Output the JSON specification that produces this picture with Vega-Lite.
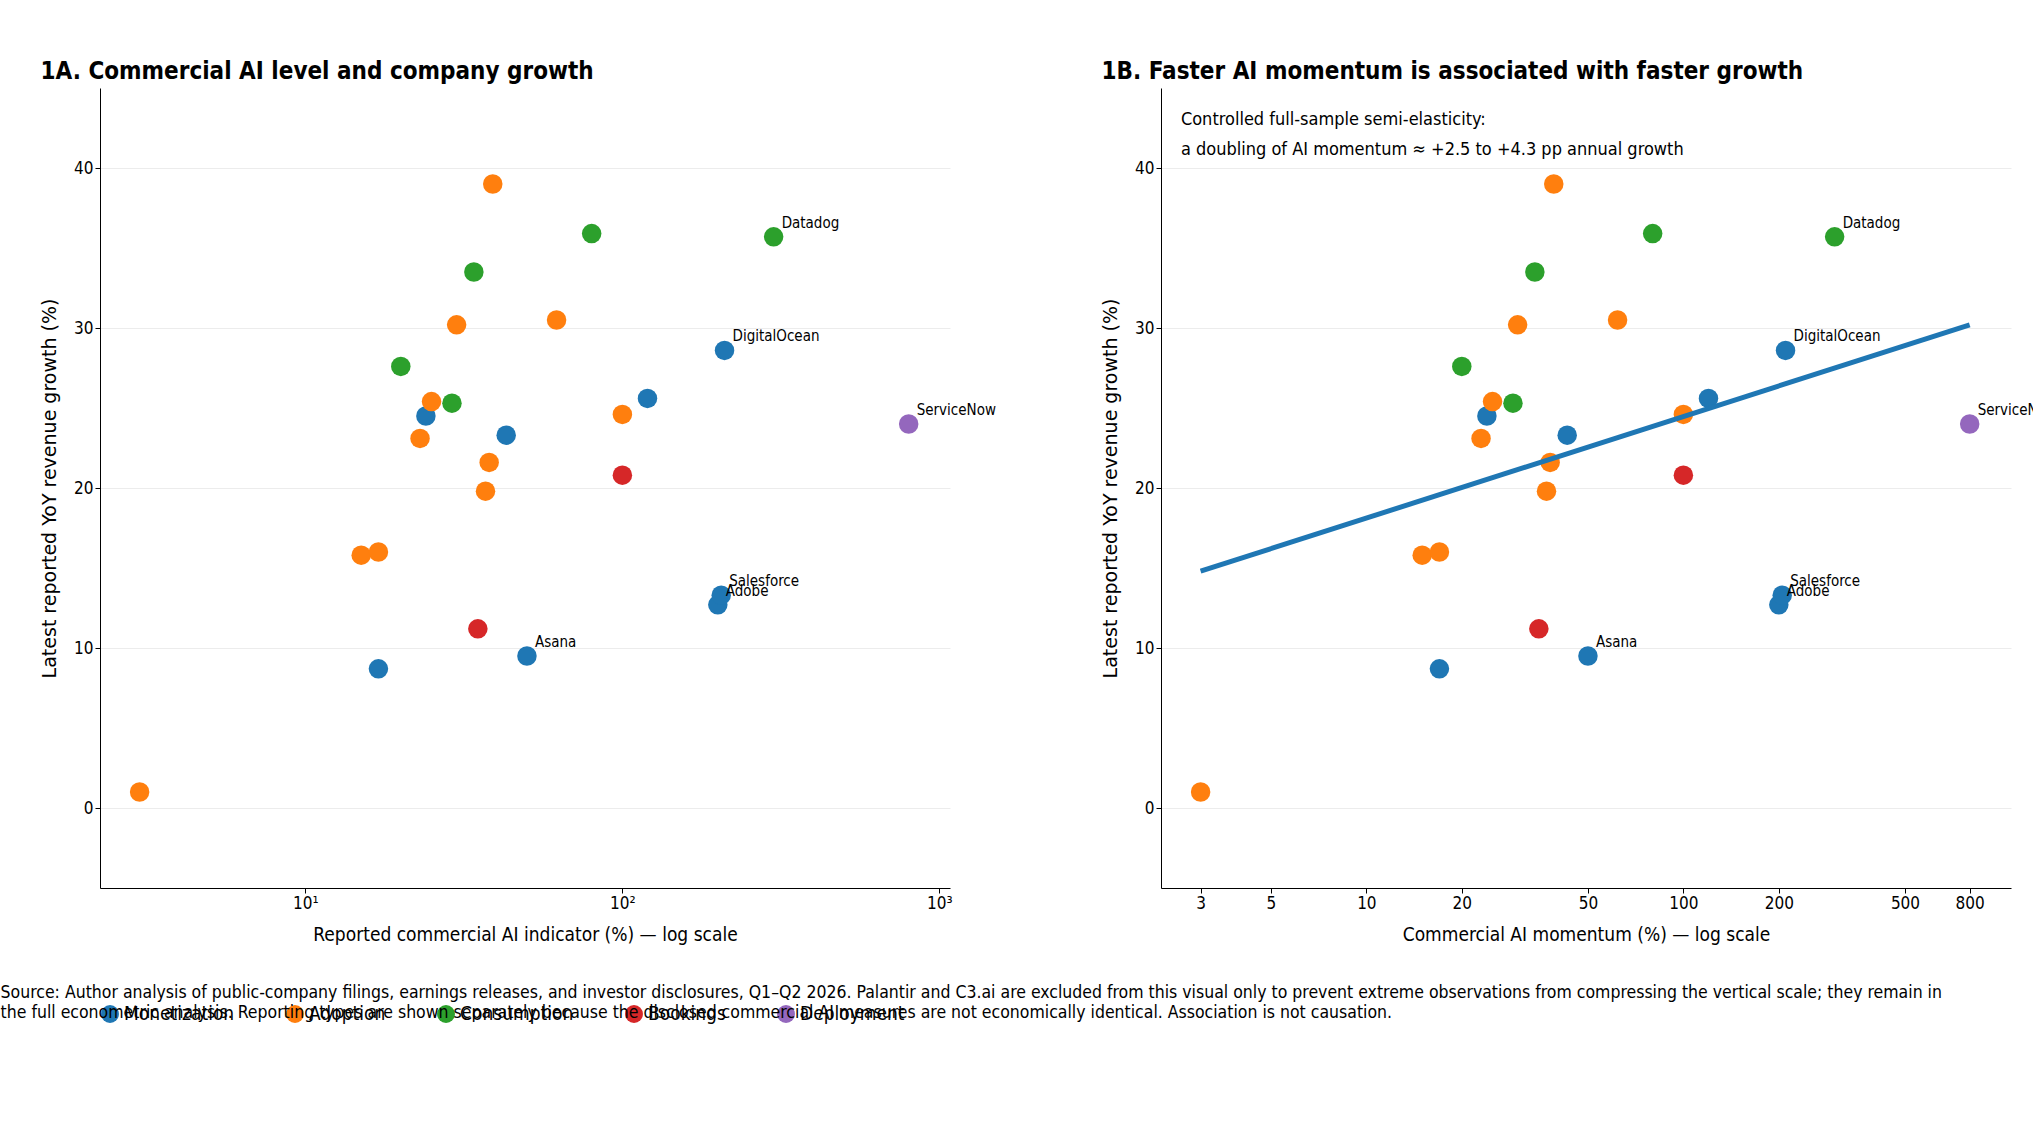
{
  "$schema": "https://vega.github.io/schema/vega-lite/v6.json",
  "background": "white",
  "padding": {"left": 0, "top": 60, "right": 5, "bottom": 10},
  "config": {
    "font": "DejaVu Sans Condensed",
    "view": {"stroke": null},
    "axis": {"labelFontSize": 17, "titleFontSize": 19, "titleFontWeight": "normal", "labelColor": "#000", "titleColor": "#000", "domainColor": "#000", "tickColor": "#000", "gridColor": "#ececec"},
    "axisX": {"grid": false},
    "title": {"fontSize": 24, "fontWeight": "bold", "anchor": "start", "color": "#000"},
    "legend": {"orient": "bottom", "direction": "horizontal", "labelFontSize": 19, "title": null, "symbolSize": 320, "columnPadding": 50, "offset": 60}
  },
  "title": {
    "text": ["Source: Author analysis of public-company filings, earnings releases, and investor disclosures, Q1–Q2 2026. Palantir and C3.ai are excluded from this visual only to prevent extreme observations from compressing the vertical scale; they remain in", "the full econometric analysis. Reporting types are shown separately because the disclosed commercial AI measures are not economically identical. Association is not causation."],
    "orient": "bottom", "anchor": "start", "fontSize": 17.5, "fontWeight": "normal", "offset": -40, "dx": -40, "lineHeight": 20
  },
  "datasets": {
    "pts": [
      {"x": 3, "y": 1, "type": "Adoption", "label": ""},
      {"x": 17, "y": 8.7, "type": "Monetization", "label": ""},
      {"x": 15, "y": 15.8, "type": "Adoption", "label": ""},
      {"x": 17, "y": 16, "type": "Adoption", "label": ""},
      {"x": 20, "y": 27.6, "type": "Consumption", "label": ""},
      {"x": 23, "y": 23.1, "type": "Adoption", "label": ""},
      {"x": 24, "y": 24.5, "type": "Monetization", "label": ""},
      {"x": 25, "y": 25.4, "type": "Adoption", "label": ""},
      {"x": 29, "y": 25.3, "type": "Consumption", "label": ""},
      {"x": 30, "y": 30.2, "type": "Adoption", "label": ""},
      {"x": 34, "y": 33.5, "type": "Consumption", "label": ""},
      {"x": 35, "y": 11.2, "type": "Bookings", "label": ""},
      {"x": 37, "y": 19.8, "type": "Adoption", "label": ""},
      {"x": 38, "y": 21.6, "type": "Adoption", "label": ""},
      {"x": 39, "y": 39, "type": "Adoption", "label": ""},
      {"x": 43, "y": 23.3, "type": "Monetization", "label": ""},
      {"x": 50, "y": 9.5, "type": "Monetization", "label": "Asana"},
      {"x": 62, "y": 30.5, "type": "Adoption", "label": ""},
      {"x": 80, "y": 35.9, "type": "Consumption", "label": ""},
      {"x": 100, "y": 24.6, "type": "Adoption", "label": ""},
      {"x": 100, "y": 20.8, "type": "Bookings", "label": ""},
      {"x": 120, "y": 25.6, "type": "Monetization", "label": ""},
      {"x": 200, "y": 12.7, "type": "Monetization", "label": "Adobe"},
      {"x": 205, "y": 13.3, "type": "Monetization", "label": "Salesforce"},
      {"x": 210, "y": 28.6, "type": "Monetization", "label": "DigitalOcean"},
      {"x": 300, "y": 35.7, "type": "Consumption", "label": "Datadog"},
      {"x": 800, "y": 24, "type": "Deployment", "label": "ServiceNow"}
    ],
    "fit": [{"x": 3, "y": 14.8}, {"x": 800, "y": 30.2}],
    "note": [{"x": 2.6, "y": 43.0, "t": "Controlled full-sample semi-elasticity:"}, {"x": 2.6, "y": 41.1, "t": "a doubling of AI momentum ≈ +2.5 to +4.3 pp annual growth"}]
  },
  "spacing": 105,
  "hconcat": [
    {
      "width": 850, "height": 800,
      "title": "1A. Commercial AI level and company growth",
      "data": {"name": "pts"},
      "layer": [
        {
          "mark": {"type": "circle", "size": 380, "opacity": 1},
          "encoding": {
            "x": {"field": "x", "type": "quantitative", "scale": {"type": "log", "domain": [2.25, 1080], "nice": false}, "axis": {"values": [10, 100, 1000], "labelExpr": "datum.value == 10 ? '10¹' : datum.value == 100 ? '10²' : '10³'", "title": "Reported commercial AI indicator (%) — log scale", "titlePadding": 14}},
            "y": {"field": "y", "type": "quantitative", "scale": {"domain": [-5, 45], "nice": false}, "axis": {"values": [0, 10, 20, 30, 40], "grid": true, "title": "Latest reported YoY revenue growth (%)", "titleFont": "DejaVu Sans", "titlePadding": 14}},
            "color": {"field": "type", "type": "nominal", "scale": {"domain": ["Monetization", "Adoption", "Consumption", "Bookings", "Deployment"], "range": ["#1f77b4", "#ff7f0e", "#2ca02c", "#d62728", "#9467bd"]}}
          }
        },
        {
          "mark": {"type": "text", "align": "left", "dx": 8, "dy": -14, "fontSize": 15},
          "encoding": {"x": {"field": "x", "type": "quantitative"}, "y": {"field": "y", "type": "quantitative"}, "text": {"field": "label"}}
        }
      ]
    },
    {
      "width": 850, "height": 800,
      "title": "1B. Faster AI momentum is associated with faster growth",
      "layer": [
        {
          "data": {"name": "pts"},
          "mark": {"type": "circle", "size": 380, "opacity": 1},
          "encoding": {
            "x": {"field": "x", "type": "quantitative", "scale": {"type": "log", "domain": [2.25, 1080], "nice": false}, "axis": {"values": [3, 5, 10, 20, 50, 100, 200, 500, 800], "format": "d", "title": "Commercial AI momentum (%) — log scale", "titlePadding": 14}},
            "y": {"field": "y", "type": "quantitative", "scale": {"domain": [-5, 45], "nice": false}, "axis": {"values": [0, 10, 20, 30, 40], "grid": true, "title": "Latest reported YoY revenue growth (%)", "titleFont": "DejaVu Sans", "titlePadding": 14}},
            "color": {"field": "type", "type": "nominal"}
          }
        },
        {
          "data": {"name": "fit"},
          "mark": {"type": "line", "color": "#1f77b4", "strokeWidth": 5},
          "encoding": {"x": {"field": "x", "type": "quantitative"}, "y": {"field": "y", "type": "quantitative"}}
        },
        {
          "data": {"name": "pts"},
          "mark": {"type": "text", "align": "left", "dx": 8, "dy": -14, "fontSize": 15},
          "encoding": {"x": {"field": "x", "type": "quantitative"}, "y": {"field": "y", "type": "quantitative"}, "text": {"field": "label"}}
        },
        {
          "data": {"name": "note"},
          "mark": {"type": "text", "align": "left", "fontSize": 18},
          "encoding": {"x": {"field": "x", "type": "quantitative"}, "y": {"field": "y", "type": "quantitative"}, "text": {"field": "t"}}
        }
      ]
    }
  ]
}
